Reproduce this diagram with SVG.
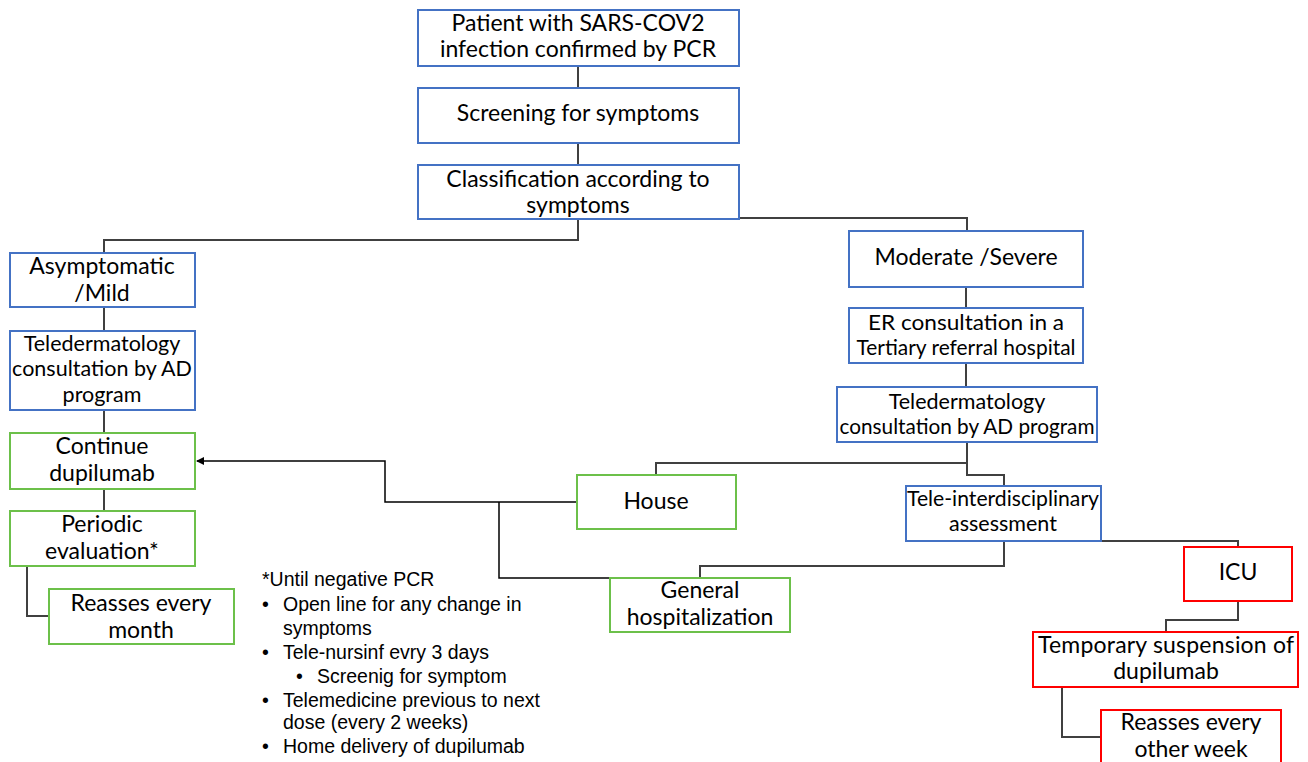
<svg xmlns="http://www.w3.org/2000/svg" width="1308" height="762" viewBox="0 0 1308 762">
<defs>
<style>
.b{fill:#fff;stroke:#4472C4;stroke-width:2}
.g{fill:#fff;stroke:#6CC04A;stroke-width:2}
.r{fill:#fff;stroke:#FF0000;stroke-width:2}
.t{font-family:Lato,"Liberation Sans",sans-serif;font-size:23px;fill:#000;text-anchor:middle}
.s{font-size:21.5px}
.n{font-family:"Liberation Sans",Arial,sans-serif;font-size:19.5px;fill:#000}
.c{fill:none;stroke:#404040;stroke-width:2}
.a{fill:none;stroke:#000;stroke-width:1.5}
</style>
<marker id="arr" markerWidth="8" markerHeight="8" refX="7" refY="4" orient="auto" markerUnits="userSpaceOnUse">
<path d="M0,0 L8,4 L0,8 Z" fill="#000"/>
</marker>
</defs>
<rect width="1308" height="762" fill="#fff"/>
<g id="connectors">
<path class="c" d="M578,66 V88"/>
<path class="c" d="M578,143 V165"/>
<path class="c" d="M578,219 V240 H104 V253"/>
<path class="c" d="M739,218 H967 V231"/>
<path class="c" d="M104,307 V331"/>
<path class="c" d="M104,410 V433"/>
<path class="c" d="M104,489 V511"/>
<path class="c" d="M27,566 V616 H49"/>
<path class="c" d="M966,287 V308"/>
<path class="c" d="M966,363 V387"/>
<path class="c" d="M967,442 V463 H656 V475"/>
<path class="c" d="M967,463 V475 H1004 V486"/>
<path class="c" d="M1004,541 H1238 V547"/>
<path class="c" d="M1004,541 V566 H700 V578"/>
<path class="c" d="M1238,601 V620 H1166 V632"/>
<path class="c" d="M1062,687 V737 H1101"/>
<path class="a" d="M577,502 H385 V461 H197" marker-end="url(#arr)"/>
<path class="a" d="M499,502 V578 H610"/>
</g>
<g id="n1"><rect class="b" x="418" y="10" width="321" height="56"/><text class="t" x="578" y="31">Patient with SARS-COV2</text><text class="t" x="578" y="57">infection confirmed by PCR</text></g>
<g id="n2"><rect class="b" x="418" y="88" width="321" height="55"/><text class="t" x="578" y="121">Screening for symptoms</text></g>
<g id="n3"><rect class="b" x="418" y="165" width="321" height="54"/><text class="t" x="578" y="187">Classification according to</text><text class="t" x="578" y="213">symptoms</text></g>
<g id="n4"><rect class="b" x="10" y="253" width="185" height="54"/><text class="t" x="102" y="274">Asymptomatic</text><text class="t" x="102" y="301">/Mild</text></g>
<g id="n5"><rect class="b" x="10" y="331" width="185" height="79"/><text class="t s" x="102" y="351">Teledermatology</text><text class="t s" x="102" y="376">consultation by AD</text><text class="t s" x="102" y="402">program</text></g>
<g id="n6"><rect class="g" x="10" y="433" width="185" height="56"/><text class="t" x="102" y="454">Continue</text><text class="t" x="102" y="481">dupilumab</text></g>
<g id="n7"><rect class="g" x="10" y="511" width="185" height="55"/><text class="t" x="102" y="532">Periodic</text><text class="t" x="102" y="559">evaluation*</text></g>
<g id="n8"><rect class="g" x="49" y="589" width="185" height="55"/><text class="t" x="141" y="611">Reasses every</text><text class="t" x="141" y="638">month</text></g>
<g id="n9"><rect class="b" x="849" y="231" width="234" height="56"/><text class="t" x="966" y="265">Moderate /Severe</text></g>
<g id="n10"><rect class="b" x="849" y="308" width="234" height="55"/><text class="t s" x="966" y="330" textLength="196" lengthAdjust="spacingAndGlyphs">ER consultation in a</text><text class="t s" x="966" y="355" textLength="219" lengthAdjust="spacingAndGlyphs">Tertiary referral hospital</text></g>
<g id="n11"><rect class="b" x="837" y="387" width="260" height="55"/><text class="t s" x="967" y="409">Teledermatology</text><text class="t s" x="967" y="434" textLength="255" lengthAdjust="spacingAndGlyphs">consultation by AD program</text></g>
<g id="n12"><rect class="g" x="577" y="475" width="159" height="54"/><text class="t" x="656" y="509">House</text></g>
<g id="n13"><rect class="b" x="906" y="486" width="195" height="55"/><text class="t s" x="1003" y="506" textLength="192" lengthAdjust="spacingAndGlyphs">Tele-interdisciplinary</text><text class="t s" x="1003" y="531">assessment</text></g>
<g id="n14"><rect class="g" x="610" y="578" width="180" height="54"/><text class="t" x="700" y="598">General</text><text class="t" x="700" y="625">hospitalization</text></g>
<g id="n15"><rect class="r" x="1184" y="547" width="108" height="54"/><text class="t" x="1238" y="580">ICU</text></g>
<g id="n16"><rect class="r" x="1033" y="632" width="265" height="55"/><text class="t" x="1166" y="653" textLength="256" lengthAdjust="spacing">Temporary suspension of</text><text class="t" x="1166" y="679">dupilumab</text></g>
<g id="n17"><rect class="r" x="1101" y="710" width="180" height="60"/><text class="t" x="1191" y="730">Reasses every</text><text class="t" x="1191" y="757">other week</text></g>
<g id="note">
<text class="n" x="262" y="586">*Until negative PCR</text>
<text class="n" x="262" y="611">•</text><text class="n" x="283" y="611">Open line for any change in</text>
<text class="n" x="283" y="635">symptoms</text>
<text class="n" x="262" y="659">•</text><text class="n" x="283" y="659">Tele-nursinf evry 3 days</text>
<text class="n" x="296" y="683">•</text><text class="n" x="317" y="683">Screenig for symptom</text>
<text class="n" x="262" y="707">•</text><text class="n" x="283" y="707">Telemedicine previous to next</text>
<text class="n" x="283" y="729">dose (every 2 weeks)</text>
<text class="n" x="262" y="753">•</text><text class="n" x="283" y="753">Home delivery of dupilumab</text>
</g>
</svg>
